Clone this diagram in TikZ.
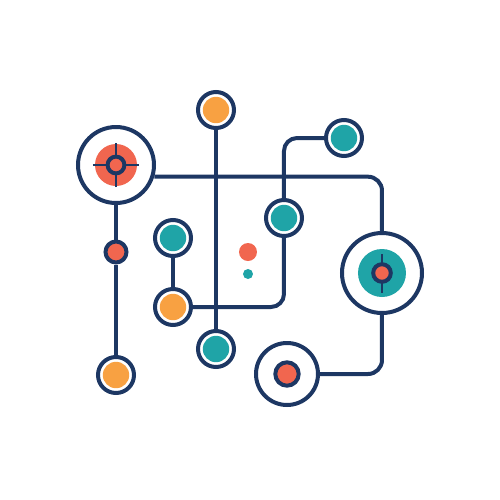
\documentclass[tikz,border=0pt]{standalone}
\definecolor{navy}{HTML}{1D3763}
\definecolor{dotorange}{HTML}{F8A142}
\definecolor{dotred}{HTML}{F1664F}
\definecolor{dotteal}{HTML}{1FA4A7}
\begin{document}
\begin{tikzpicture}[x=0.5pt,y=-0.5pt,
	ring/.style={circle, draw=navy, fill=white, line width=2pt, inner sep=0pt, minimum size=18pt},
	pin/.style={ring, path picture={\fill[#1] (path picture bounding box.center) circle (6.6pt);}},
	link/.style={draw=navy, line width=2pt, rounded corners=7pt},
	dot/.style={circle, fill=#1, inner sep=0pt}]

	\useasboundingbox (0,0) rectangle (500,500);

	% big rings
	\node[ring, minimum size=38pt] (target) at (116,165) {};
	\node[ring, minimum size=40pt] (hub) at (382,273) {};
	\node[ring, minimum size=31pt] (ringB) at (287,374) {};

	% small pins
	\node[pin=dotorange] (topOrange) at (216,110) {};
	\node[pin=dotteal] (tealTop) at (344,138) {};
	\node[pin=dotteal] (tealMid) at (284,218) {};
	\node[pin=dotteal] (tealLeft) at (173,238) {};
	\node[pin=dotorange] (orangeMid) at (173,307) {};
	\node[pin=dotteal] (tealLow) at (216,349) {};
	\node[pin=dotorange] (orangeLow) at (116,375) {};
	\node[circle, draw=navy, fill=dotred, line width=2pt, inner sep=0pt, minimum size=10.5pt] (redS) at (116,252) {};

	\node[dot=dotred, minimum size=9pt] (dotA) at (248,252) {};
	\node[dot=dotteal, minimum size=5pt] (dotB) at (248,274) {};

	% links
	\draw[link] (target.south) -- (redS.north);
	\draw[link] (redS.south) -- (orangeLow.north);
	\draw[link] (target.-17) -| (hub.north);
	\draw[link, rounded corners=6.5pt] (tealTop.west) -| (tealMid.north);
	\draw[link, rounded corners=6.5pt] (tealMid.south) |- (orangeMid.east);
	\draw[link] (tealLeft.south) -- (orangeMid.north);
	\draw[link] (topOrange.south) -- (tealLow.north);
	\draw[link] (ringB.east) -| (hub.south);

	% inner marks
	\fill[dotred] (target) circle (10.5pt);
	\draw[navy, line width=1.2pt] ([xshift=-11.5pt]target.center) -- ([xshift=11.5pt]target.center);
	\draw[navy, line width=1.2pt] ([yshift=-11pt]target.center) -- ([yshift=11pt]target.center);
	\draw[navy, line width=2pt, fill=dotred] (target) circle (4.2pt);

	\fill[dotteal] (hub) circle (12pt);
	\draw[navy, line width=1.2pt] ([yshift=-9.75pt]hub.center) -- ([yshift=9.75pt]hub.center);
	\draw[navy, line width=2pt, fill=dotred] (hub) circle (4.4pt);

	\draw[navy, line width=2pt, fill=dotred] (ringB) circle (5.85pt);
\end{tikzpicture}
\end{document}
